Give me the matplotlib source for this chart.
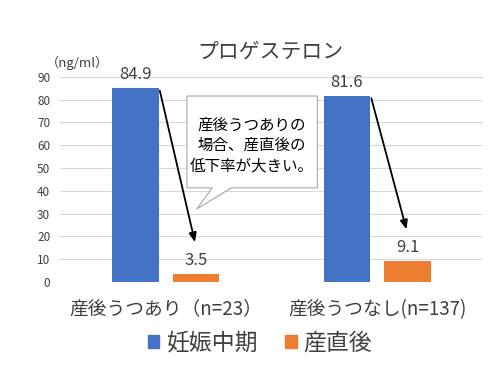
import matplotlib.pyplot as plt
from matplotlib.patches import Polygon, Patch

plt.rcParams['font.family'] = ['Noto Sans CJK JP', 'DejaVu Sans']

groups = ['産後うつあり（n=23）', '産後うつなし(n=137)']
series = ['妊娠中期', '産直後']
mid_pregnancy = [84.9, 81.6]
postpartum = [3.5, 9.1]
colors = ['#4472c4', '#ed7d31']
yticks = [0, 10, 20, 30, 40, 50, 60, 70, 80, 90]

title = 'プロゲステロン'
unit = '（ng/ml）'
note = '産後うつありの\n場合、産直後の\n低下率が大きい。'

fig = plt.figure(figsize=(5, 3.75), dpi=100)
ax = fig.add_axes([0.12, 0.248, 0.846, 0.547])

w = 0.22
off = 0.143
x = list(range(len(groups)))
b1 = ax.bar([i - off for i in x], mid_pregnancy, w, color=colors[0], zorder=3)
b2 = ax.bar([i + off for i in x], postpartum, w, color=colors[1], zorder=3)

for bars, vals in ((b1, mid_pregnancy), (b2, postpartum)):
    for b, v in zip(bars, vals):
        ax.text(b.get_x() + b.get_width() / 2, v + 2.2, f'{v}', ha='center',
                va='bottom', fontsize=12, color='#404040')

# arrows from the mid-pregnancy bar top to the postpartum label
for i in x:
    ax.annotate('', xy=(i + off - 0.005, postpartum[i] + 14),
                xytext=(i - off + w / 2 + 0.005, mid_pregnancy[i] - 1),
                arrowprops=dict(arrowstyle='-|>,head_length=0.6,head_width=0.25',
                                color='black', lw=1.3,
                                mutation_scale=9, shrinkA=0, shrinkB=0),
                zorder=5)

# callout box
bx0, bx1, by0, by1 = 0.10, 0.717, 41.3, 81.6
callout = Polygon([(bx0, by0), (bx0, by1), (bx1, by1), (bx1, by0),
                   (0.31, by0), (0.146, 32), (0.22, by0)],
                  closed=True, facecolor='white', edgecolor='#a6a6a6', lw=0.8,
                  zorder=4)
ax.add_patch(callout)
ax.text((bx0 + bx1) / 2, (by0 + by1) / 2 - 1.5, note, ha='center', va='center',
        fontsize=11.2, color='black', linespacing=1.25, zorder=6)

ax.set_xlim(-0.5, 1.5)
ax.set_ylim(0, 90)
ax.set_yticks(yticks)
ax.set_xticks(x)
ax.set_xticklabels(groups, fontsize=13.5, color='#404040')
ax.tick_params(axis='y', labelsize=8.5, colors='#404040', length=0, pad=7)
ax.tick_params(axis='x', length=0, pad=12)
ax.grid(axis='y', color='#d9d9d9', lw=0.8, zorder=0)
for s in ax.spines.values():
    s.set_visible(False)

fig.text(0.54, 0.862, title, ha='center', va='center', fontsize=15,
         color='#404040')
fig.text(0.155, 0.833, unit, ha='center', va='center', fontsize=9.5,
         color='#404040')

handles = [Patch(color=c) for c in colors]
fig.legend(handles, series, loc='center', bbox_to_anchor=(0.52, 0.085),
           ncol=2, frameon=False, fontsize=16.5, handlelength=0.5,
           handleheight=0.5, handletextpad=0.3, columnspacing=1.2,
           labelcolor='#404040')

fig.savefig('out.png', dpi=100)
